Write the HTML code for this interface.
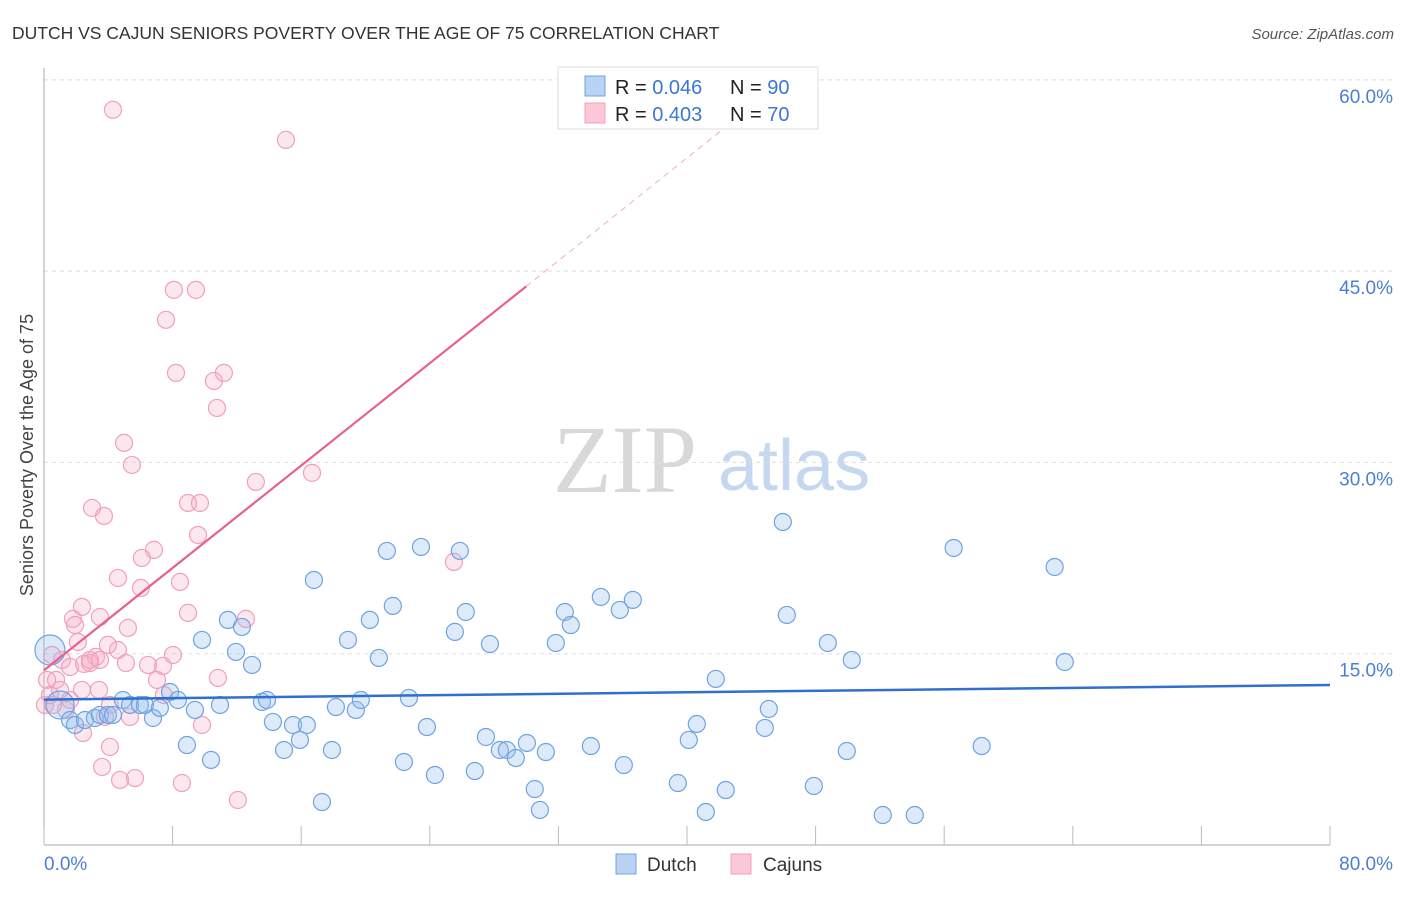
<!DOCTYPE html>
<html><head><meta charset="utf-8"><style>
body{margin:0;background:#fff;font-family:"Liberation Sans",sans-serif}
svg text{font-family:"Liberation Sans",sans-serif}
</style></head><body>
<svg id="c" width="1406" height="892" viewBox="0 0 1406 892">
<text x="12" y="39" font-size="17.5" fill="#333">DUTCH VS CAJUN SENIORS POVERTY OVER THE AGE OF 75 CORRELATION CHART</text>
<text x="1394" y="39" font-size="15" fill="#555" font-style="italic" text-anchor="end">Source: ZipAtlas.com</text>
<text x="33" y="455" font-size="18" fill="#444" text-anchor="middle" transform="rotate(-90 33 455)">Seniors Poverty Over the Age of 75</text>
<g>
<text x="553" y="492" font-size="96" fill="#d8d8d8" font-family="Liberation Serif" style="font-family:'Liberation Serif',serif">ZIP</text>
<text x="718" y="490" font-size="72" fill="#c5d8f0">atlas</text>
</g>
<g id="grid"></g><g id="axes"></g><g id="pts"></g><g id="lines"></g>
<g>
<rect x="558" y="67" width="260" height="62" fill="#fff" stroke="#ddd"/>
<rect x="585" y="76" width="20" height="20" fill="#b9d3f5" stroke="#6fa3e0"/>
<rect x="585" y="103" width="20" height="20" fill="#fcc8d8" stroke="#f0a0bc"/>
<text x="615" y="94" font-size="20" fill="#222">R = <tspan fill="#3b78d0">0.046</tspan></text>
<text x="730" y="94" font-size="20" fill="#222">N = <tspan fill="#3b78d0">90</tspan></text>
<text x="615" y="121" font-size="20" fill="#222">R = <tspan fill="#3b78d0">0.403</tspan></text>
<text x="730" y="121" font-size="20" fill="#222">N = <tspan fill="#3b78d0">70</tspan></text>
</g>
<g>
<rect x="616" y="854" width="20" height="20" fill="#b9d3f5" stroke="#6fa3e0"/>
<text x="647" y="871" font-size="19" fill="#333">Dutch</text>
<rect x="731" y="854" width="20" height="20" fill="#fcc8d8" stroke="#f0a0bc"/>
<text x="763" y="871" font-size="19" fill="#333">Cajuns</text>
</g>
</svg>
<script>
const yTicks=[15,30,45,60];
const yTickLabels=["15.0%","30.0%","45.0%","60.0%"];
const xTicks=[0,8,16,24,32,40,48,56,64,72,80];
const dutchX=[0.37,1.0,1.62,1.93,2.55,3.17,3.48,3.98,4.29,4.91,5.35,5.97,6.28,6.78,7.21,7.84,8.33,8.89,9.39,9.83,10.39,10.95,11.44,11.94,12.31,12.94,13.56,13.87,14.24,14.93,15.49,15.92,16.35,16.79,17.29,18.16,17.91,18.91,19.4,19.71,20.27,20.83,21.33,21.7,22.39,22.7,23.45,23.82,24.32,25.56,25.87,26.24,26.8,27.49,27.74,28.36,28.79,29.35,30.04,30.53,30.85,31.22,31.84,32.4,32.77,34.02,34.64,35.82,36.07,36.63,39.43,40.11,40.61,41.17,41.79,42.41,44.84,45.09,45.96,46.21,47.89,48.76,49.94,50.25,52.18,54.17,56.59,58.33,62.87,63.5];
const dutchY=[15.29,10.98,9.8,9.41,9.8,9.96,10.2,10.2,10.2,11.37,10.98,10.98,10.98,9.96,10.75,12.0,11.37,7.84,10.59,16.08,6.67,10.98,17.65,15.14,17.1,14.12,11.22,11.37,9.65,7.45,9.41,8.24,9.41,20.78,3.37,10.82,7.45,16.08,10.59,11.37,17.65,14.67,23.06,18.75,6.51,11.53,23.37,9.25,5.49,16.71,23.06,18.27,5.8,8.47,15.76,7.45,7.45,6.82,8.0,4.39,2.75,7.29,15.84,18.27,17.25,7.76,19.45,18.43,6.27,19.22,4.86,8.24,9.49,2.59,13.02,4.31,9.18,10.67,25.33,18.04,4.63,15.84,7.37,14.51,2.35,2.35,23.29,7.76,21.8,14.35];
const dutchSize=[15,14];
const cajunX=[4.29,15.05,8.08,9.45,7.59,8.21,10.57,11.19,10.76,4.98,5.47,2.99,3.73,9.7,8.96,13.18,16.67,9.58,6.84,6.09,4.6,8.46,6.03,2.36,1.8,1.93,8.96,12.56,3.48,5.22,2.11,3.98,4.6,8.02,3.23,2.86,2.49,1.62,1.12,5.1,7.4,0.5,0.75,0.19,0.37,1.37,3.42,2.36,7.03,10.82,7.46,4.1,3.79,5.35,9.83,0.56,2.43,4.1,3.61,4.73,5.66,8.58,12.06,25.5,1.0,3.48,6.47,0.06,2.86,1.62];
const cajunY=[57.65,55.29,43.53,43.53,41.18,37.02,36.39,37.02,34.27,31.53,29.8,26.43,25.8,26.82,26.82,28.47,29.18,24.31,23.14,22.51,20.94,20.63,20.16,18.67,17.73,17.25,18.2,17.73,17.88,17.02,15.92,15.69,15.29,14.9,14.75,14.27,14.2,13.96,14.51,14.27,14.04,14.9,12.94,12.94,11.76,10.59,12.16,12.16,12.94,13.1,11.76,10.98,10.04,10.04,9.41,10.98,8.78,7.69,6.12,5.1,5.25,4.86,3.53,22.2,12.16,14.51,14.12,10.98,14.51,11.37];
const dutchTrend=[[0,11.4],[80,12.55]];
const cajunTrend=[[0,13.7],[30,43.8]];
const cajunTrendExt=[[30,43.8],[43.3,57.2]];

const X=v=>44+v*16.075, Y=v=>845-v*12.753;
const NS='http://www.w3.org/2000/svg';
function mk(p,t,a){const e=document.createElementNS(NS,t);for(const k in a)e.setAttribute(k,a[k]);p.appendChild(e);return e;}
const grid=document.getElementById('grid'),axes=document.getElementById('axes'),pts=document.getElementById('pts'),lines=document.getElementById('lines');
yTicks.forEach((t,i)=>{
 const l=mk(grid,'line',{x1:44,x2:1393,y1:Y(t),y2:Y(t),stroke:'#ddd','stroke-dasharray':'4,4'});
 
 
 const tx=mk(grid,'text',{x:1393,y:Y(t)+23,'font-size':19,fill:'#4a7fd4','text-anchor':'end'});
 tx.textContent=yTickLabels[i];
 
 
});
let a=mk(axes,'line',{x1:44,x2:44,y1:68,y2:845,stroke:'#aaa'});


a=mk(axes,'line',{x1:44,x2:1330,y1:845,y2:845,stroke:'#aaa'});


xTicks.forEach(t=>{const l=mk(axes,'line',{x1:X(t),x2:X(t),y1:826,y2:845,stroke:'#bbb'});
 
 });
let tl=mk(axes,'text',{x:44,y:870,'font-size':19,fill:'#4a7fd4'});tl.textContent='0.0%';


tl=mk(axes,'text',{x:1393,y:870,'font-size':19,fill:'#4a7fd4','text-anchor':'end'});tl.textContent='80.0%';


cajunX.forEach((v,i)=>{const c=mk(pts,'circle',{cx:X(v),cy:Y(cajunY[i]),r:8.5,fill:'rgba(248,170,195,0.28)',stroke:'#f0a0bc','stroke-width':1.2});
 
 });
dutchX.forEach((v,i)=>{const c=mk(pts,'circle',{cx:X(v),cy:Y(dutchY[i]),r:dutchSize[i]||8.5,fill:'rgba(150,190,240,0.32)',stroke:'#6fa3e0','stroke-width':1.2});
 
 });
let ln=mk(lines,'line',{x1:X(dutchTrend[0][0]),y1:Y(dutchTrend[0][1]),x2:X(dutchTrend[1][0]),y2:Y(dutchTrend[1][1]),stroke:'#2f6fd0','stroke-width':2.5});


ln=mk(lines,'line',{x1:X(cajunTrend[0][0]),y1:Y(cajunTrend[0][1]),x2:X(cajunTrend[1][0]),y2:Y(cajunTrend[1][1]),stroke:'#e8608e','stroke-width':2.2});


ln=mk(lines,'line',{x1:X(cajunTrendExt[0][0]),y1:Y(cajunTrendExt[0][1]),x2:X(cajunTrendExt[1][0]),y2:Y(cajunTrendExt[1][1]),stroke:'#eeb0c4','stroke-width':1,'stroke-dasharray':'6,5'});


</script>
</body></html>
